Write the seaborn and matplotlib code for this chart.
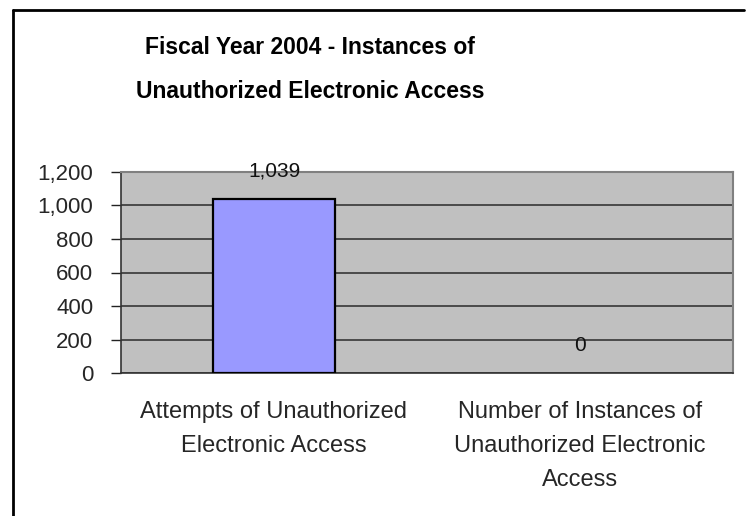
import matplotlib
matplotlib.use("Agg")
import matplotlib.pyplot as plt
from matplotlib.lines import Line2D
from matplotlib.ticker import FixedLocator
import seaborn as sns
import pandas as pd

# Chart data
categories = [
    "Attempts of Unauthorized\nElectronic Access",
    "Number of Instances of\nUnauthorized Electronic\nAccess",
]
values = [1039, 0]
y_ticks = [0, 200, 400, 600, 800, 1000, 1200]
title_lines = ["Fiscal Year 2004 - Instances of", "Unauthorized Electronic Access"]

sns.set_theme(style="white")
plt.rcParams["font.family"] = ["Liberation Sans", "DejaVu Sans"]

W, H, DPI = 746, 516, 100
fig = plt.figure(figsize=(W / DPI, H / DPI), dpi=DPI, facecolor="white")

# Plot area in pixel terms
left, right, top, bottom = 121, 733, 172, 373
ax = fig.add_axes([left / W, 1 - bottom / H, (right - left) / W, (bottom - top) / H])
ax.set_facecolor("#C0C0C0")

df = pd.DataFrame({"category": categories, "value": values})
sns.barplot(data=df, x="category", y="value", ax=ax, width=0.4,
            color="#9999FF", edgecolor="black", linewidth=1.6, saturation=1,
            zorder=3)
# a zero-height bar leaves no visible outline
for patch, v in zip(ax.patches, values):
    if v == 0:
        patch.set_linewidth(0)

ax.set_ylim(y_ticks[0], y_ticks[-1])
ax.set_xlim(-0.5, len(categories) - 0.5)
ax.set_yticks(y_ticks)
ax.set_yticklabels([f"{v:,}" for v in y_ticks], fontsize=16)
ax.yaxis.grid(True, color="#4a4a4a", linewidth=1.4, zorder=1)
ax.set_axisbelow(True)

# Category ticks at the boundaries, labels centred under each bar
ax.xaxis.set_major_locator(FixedLocator([i - 0.5 for i in range(len(categories) + 1)]))
ax.set_xticklabels([])
ax.set_xticks(range(len(categories)), minor=True)
ax.set_xticklabels(categories, minor=True, fontsize=17, linespacing=1.7)
ax.tick_params(axis="x", which="minor", length=0, pad=20)
ax.tick_params(axis="x", which="major", length=7, width=1, color="#222222", direction="out")
ax.tick_params(axis="y", length=7, width=1, color="#222222", direction="out", pad=13, left=True)
ax.set_xlabel("")
ax.set_ylabel("")

for side in ("top", "right"):
    ax.spines[side].set_color("#808080")
    ax.spines[side].set_linewidth(1.5)
for side in ("left", "bottom"):
    ax.spines[side].set_color("#333333")
    ax.spines[side].set_linewidth(1.2)

ax.bar_label(ax.containers[0], labels=[f"{v:,}" for v in values], padding=13,
             fontsize=15, color="#111111")

# Title
for line, ypx in zip(title_lines, (48, 92)):
    fig.text(310 / W, 1 - ypx / H, line, ha="center", va="center",
             fontsize=16.5, fontweight="bold", color="black")

# Chart frame (left and top edges)
fig.add_artist(Line2D([13 / W, 13 / W], [0, 1 - 10 / H], transform=fig.transFigure,
                      color="black", linewidth=2))
fig.add_artist(Line2D([13 / W, 744 / W], [1 - 10 / H, 1 - 10 / H], transform=fig.transFigure,
                      color="black", linewidth=2))

fig.savefig("out.png", dpi=DPI, facecolor="white")
